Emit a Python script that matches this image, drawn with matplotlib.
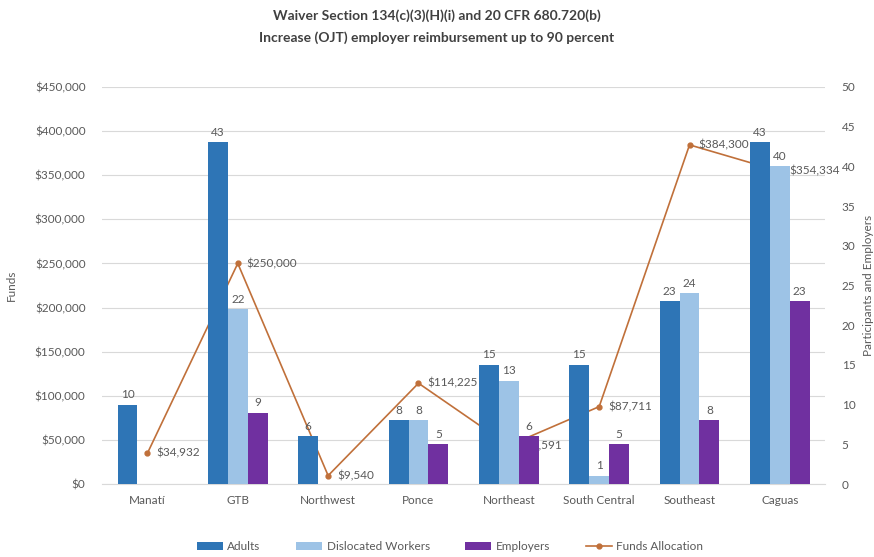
import numpy as np
import matplotlib.pyplot as plt

plt.rcParams['font.family'] = ['Lato', 'DejaVu Sans']

regions = ['Manatí', 'GTB', 'Northwest', 'Ponce', 'Northeast', 'South Central', 'Southeast', 'Caguas']
adults = [10, 43, 6, 8, 15, 15, 23, 43]
dislocated = [None, 22, None, 8, 13, 1, 24, 40]
employers = [None, 9, None, 5, 6, 5, 8, 23]
funds = [34932, 250000, 9540, 114225, 43591, 87711, 384300, 354334]

GREY = '#595959'
x = np.arange(len(regions))
w = 0.22

fig = plt.figure(figsize=(8.74, 5.57), dpi=100)
ax = fig.add_axes([0.117, 0.131, 0.827, 0.713])
ax2 = ax.twinx()

# funds line on the left axis
ax.plot(x, funds, color='#C0703A', lw=1.2, marker='o', ms=3.5, label='Funds Allocation', zorder=3)
for xi, f in zip(x, funds):
    ax.text(xi + 0.1, f, '${:,}'.format(f), color=GREY, fontsize=8.5, va='center', ha='left')
ax.set_ylim(0, 450000)
ax.set_yticks(np.arange(0, 450001, 50000))
ax.set_yticklabels(['${:,}'.format(v) for v in range(0, 450001, 50000)])
ax.set_xlim(-0.5, len(regions) - 0.5)
ax.set_xticks(x)
ax.set_xticklabels(regions)
ax.grid(axis='y', color='#D9D9D9', lw=0.8)
ax.set_axisbelow(True)
ax.set_ylabel('Funds', color=GREY, fontsize=8.5)
ax.yaxis.set_label_coords(-0.118, 0.5)

# bars on the right axis
series = [(adults, '#2E75B6', 'Adults', -w),
          (dislocated, '#9DC3E6', 'Dislocated Workers', 0),
          (employers, '#7030A0', 'Employers', w)]
handles = []
for vals, col, name, off in series:
    v = np.array([np.nan if a is None else a for a in vals], dtype=float)
    bars = ax2.bar(x + off, v, width=w, color=col, label=name, zorder=2)
    handles.append(bars)
    for xi, vi in zip(x, v):
        if not np.isnan(vi):
            ax2.text(xi + off, vi + 0.6, '%d' % vi, ha='center', va='bottom', color=GREY, fontsize=8.5)
ax2.set_ylim(0, 50)
ax2.set_yticks(range(0, 51, 5))
ax2.set_ylabel('Participants and Employers', color=GREY, fontsize=8.5, rotation=90)
ax2.yaxis.set_label_coords(1.052, 0.5)

for a in (ax, ax2):
    for s in a.spines.values():
        s.set_visible(False)
    a.tick_params(length=0, colors=GREY, labelsize=8.5)
ax.spines['bottom'].set_visible(True)
ax.spines['bottom'].set_color('#D9D9D9')
ax.tick_params(axis='x', pad=8)
ax.tick_params(axis='y', pad=12)
ax2.tick_params(axis='y', pad=12)

line_h = ax.get_legend_handles_labels()[0]
fig.legend(handles + line_h, ['Adults', 'Dislocated Workers', 'Employers', 'Funds Allocation'],
           loc='center', bbox_to_anchor=(0.515, 0.018), ncol=4, frameon=False,
           fontsize=8.5, labelcolor=GREY, columnspacing=3, handlelength=2.2, handletextpad=0.4)

fig.text(0.5, 0.972, 'Waiver Section 134(c)(3)(H)(i) and 20 CFR 680.720(b)', ha='center', va='center',
         fontsize=10, fontweight='bold', color='#404040')
fig.text(0.5, 0.932, 'Increase (OJT) employer reimbursement up to 90 percent', ha='center', va='center',
         fontsize=10, fontweight='bold', color='#404040')

fig.savefig('out.png', dpi=100)
